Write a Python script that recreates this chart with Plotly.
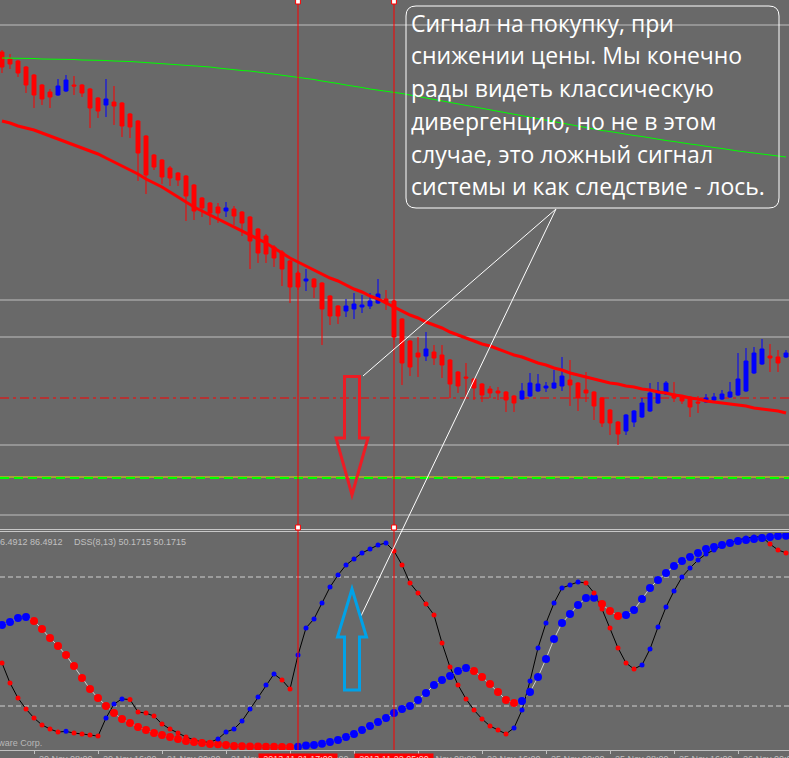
import plotly.graph_objects as go

W, H = 789, 758

# ---------------- data ----------------
OPEN = [94.8, 94.1, 93.9, 93.3, 92.5, 91.5, 90.8, 90.5, 90.9, 91.5,
        91.5, 91.1, 90.2, 89.5, 89.8, 89.7, 88.6, 87.9, 86.4, 84.5,
        84.0, 83.2, 82.7, 82.4, 81.5, 80.2, 79.7, 79.3, 78.9, 79.1,
        78.8, 78.3, 77.1, 76.4, 75.3, 74.8, 73.9, 72.7, 71.9, 72.1,
        71.7, 70.4, 69.4, 68.9, 69.1, 69.3, 69.4, 69.7, 70.1, 69.9,
        68.1, 65.9, 64.7, 64.4, 64.8, 64.5, 64.0, 62.8, 62.3, 62.1,
        61.6, 61.1, 60.9, 60.8, 60.4, 60.1, 60.4, 60.9, 61.2, 61.2,
        61.4, 62.0, 61.7, 61.0, 60.8, 60.2, 59.0, 57.8, 56.9, 57.8,
        58.3, 58.9, 59.7, 60.6, 60.6, 60.4, 60.3, 59.8, 59.8, 60.0,
        60.1, 60.3, 60.5, 60.9, 62.7, 63.6, 64.4, 64.3, 64.3]
HIGH = [95.0, 94.6, 94.0, 93.4, 92.6, 91.6, 91.1, 92.1, 92.5, 92.4,
        91.6, 91.2, 90.3, 92.1, 91.4, 89.8, 88.7, 88.0, 86.5, 84.6,
        84.1, 83.4, 82.8, 82.5, 81.6, 80.3, 79.8, 79.7, 79.8, 79.4,
        78.9, 78.4, 77.2, 76.6, 75.5, 75.0, 74.0, 72.9, 73.1, 72.2,
        71.8, 70.5, 69.5, 70.1, 70.7, 70.5, 70.7, 72.1, 71.0, 70.0,
        68.2, 66.0, 66.3, 66.8, 65.5, 65.5, 64.1, 62.9, 63.7, 62.2,
        61.7, 61.4, 61.3, 60.9, 60.5, 61.7, 62.7, 62.6, 61.8, 63.0,
        64.3, 64.0, 61.8, 62.8, 60.9, 60.3, 59.1, 57.9, 58.6, 59.0,
        60.2, 61.7, 61.8, 61.9, 61.8, 60.5, 60.4, 60.4, 60.6, 60.7,
        61.0, 61.8, 64.7, 65.2, 65.3, 66.1, 65.6, 65.0, 65.0]
LOW = [92.7, 93.1, 92.3, 90.7, 89.2, 89.5, 89.2, 90.4, 90.8, 90.5,
       90.3, 87.2, 88.2, 88.3, 87.5, 86.3, 86.2, 81.9, 80.6, 83.0,
       81.6, 81.4, 81.4, 77.9, 78.0, 78.3, 77.5, 77.7, 78.3, 77.5,
       76.4, 73.1, 73.7, 73.7, 73.3, 71.4, 69.7, 71.0, 70.9, 70.2,
       65.5, 67.5, 67.6, 68.3, 68.1, 68.7, 69.1, 69.6, 69.0, 66.0,
       61.5, 62.4, 62.3, 63.9, 63.5, 62.2, 60.2, 60.7, 60.2, 60.0,
       59.8, 60.2, 60.0, 58.8, 58.8, 60.0, 60.3, 60.8, 60.8, 61.1,
       60.9, 59.4, 58.9, 59.8, 58.0, 57.3, 56.5, 55.5, 56.5, 57.3,
       58.2, 58.8, 59.6, 60.5, 59.8, 59.6, 58.3, 58.7, 59.7, 59.7,
       60.0, 60.2, 60.4, 60.8, 62.6, 63.5, 62.8, 62.8, 64.2]
CLOSE = [93.3, 93.6, 92.7, 91.5, 90.5, 90.1, 90.3, 91.4, 92.0, 91.4,
         90.7, 89.2, 88.9, 90.1, 89.4, 87.4, 87.3, 84.7, 82.5, 83.3,
         82.3, 82.2, 82.0, 80.4, 78.9, 79.2, 78.7, 78.7, 79.2, 78.4,
         77.7, 75.9, 74.7, 74.6, 74.2, 73.1, 71.3, 71.3, 72.1, 71.3,
         69.1, 68.4, 68.4, 69.4, 69.6, 69.5, 69.9, 70.6, 69.7, 66.3,
         63.7, 63.3, 64.3, 65.1, 64.2, 63.5, 61.6, 61.4, 62.2, 61.2,
         60.5, 60.7, 60.7, 60.0, 59.7, 60.9, 61.7, 61.6, 61.4, 61.7,
         62.4, 61.5, 60.2, 60.7, 59.4, 57.7, 57.7, 56.6, 58.5, 58.9,
         59.7, 60.7, 60.9, 61.7, 60.2, 59.9, 59.3, 59.7, 60.2, 60.3,
         60.6, 60.8, 62.1, 63.9, 64.7, 65.1, 64.2, 63.7, 64.7]

MA_FAST = [87.9, 87.7, 87.4, 87.2, 87.0, 86.7, 86.4, 86.1, 85.8, 85.5,
           85.2, 84.9, 84.6, 84.2, 83.8, 83.4, 83.0, 82.6, 82.1, 81.7,
           81.3, 80.8, 80.3, 79.8, 79.3, 78.9, 78.5, 78.1, 77.7, 77.3,
           76.9, 76.5, 76.1, 75.7, 75.2, 74.7, 74.2, 73.8, 73.4, 73.0,
           72.6, 72.2, 71.9, 71.5, 71.1, 70.8, 70.4, 70.1, 69.7, 69.3,
           68.9, 68.5, 68.2, 67.8, 67.5, 67.2, 66.8, 66.5, 66.2, 65.9,
           65.6, 65.4, 65.1, 64.8, 64.5, 64.3, 64.0, 63.7, 63.5, 63.2,
           63.0, 62.7, 62.5, 62.3, 62.1, 61.9, 61.7, 61.6, 61.4, 61.3,
           61.1, 61.0, 60.8, 60.7, 60.5, 60.4, 60.2, 60.1, 59.9, 59.8,
           59.7, 59.6, 59.5, 59.4, 59.2, 59.1, 59.0, 58.9, 58.7]
MA_SLOW = [94.2, 94.2, 94.2, 94.2, 94.15, 94.1, 94.1, 94.1, 94.1, 94.05,
           94.0, 94.0, 94.0, 93.95, 93.9, 93.9, 93.85, 93.8, 93.75, 93.7,
           93.65, 93.6, 93.55, 93.5, 93.4, 93.35, 93.3, 93.2, 93.1, 93.05,
           92.95, 92.9, 92.8, 92.7, 92.6, 92.5, 92.4, 92.3, 92.2, 92.05,
           91.9, 91.8, 91.65, 91.5, 91.4, 91.25, 91.1, 91.0, 90.9, 90.8,
           90.65, 90.5, 90.35, 90.2, 90.05, 89.9, 89.75, 89.6, 89.45, 89.3,
           89.15, 89.0, 88.85, 88.7, 88.55, 88.4, 88.25, 88.1, 87.95, 87.8,
           87.65, 87.5, 87.35, 87.2, 87.1, 86.95, 86.85, 86.7, 86.6, 86.45,
           86.35, 86.2, 86.1, 85.95, 85.85, 85.7, 85.6, 85.5, 85.35, 85.25,
           85.15, 85.0, 84.9, 84.8, 84.7, 84.6, 84.5, 84.4, 84.3]

DSS_MAIN = [40.0, 30.7, 23.7, 18.6, 14.4, 11.2, 9.3, 7.9, 8.2, 7.4,
            7.0, 6.5, 6.0, 14.4, 20.9, 23.3, 23.0, 17.2, 16.7, 15.3,
            11.6, 9.3, 7.4, 5.6, 4.2, 3.3, 3.1, 4.7, 7.9, 9.3,
            13.0, 18.6, 24.2, 29.8, 34.9, 32.1, 27.9, 43.7, 56.3, 60.5,
            67.9, 75.3, 80.9, 85.6, 88.4, 91.2, 93.0, 94.9, 95.8, 92.1,
            85.6, 77.2, 72.6, 67.4, 62.3, 49.3, 38.1, 29.8, 23.3, 18.1,
            14.0, 10.7, 8.8, 7.0, 9.8, 18.1, 31.6, 47.0, 58.6, 67.9,
            74.9, 76.3, 77.7, 77.2, 72.6, 65.1, 56.3, 47.0, 40.0, 37.2,
            39.1, 46.5, 56.7, 66.0, 73.5, 80.0, 84.2, 87.9, 90.7, 92.6,
            94.9, 95.8, 97.2, 98.1, 98.6, 98.7, 95.3, 92.6, 91.2]
DSS_SIGNAL = [57.7, 59.1, 60.9, 61.4, 59.5, 55.8, 51.6, 47.9, 43.7, 38.6,
              33.0, 27.9, 23.7, 20.0, 16.7, 14.0, 12.1, 10.2, 8.8, 7.4,
              6.5, 5.6, 4.7, 3.7, 3.3, 2.8, 2.3, 2.2, 1.9, 1.4,
              1.3, 1.2, 1.15, 1.1, 1.0, 0.95, 0.9, 1.0, 1.6, 1.9,
              2.5, 3.3, 4.2, 5.6, 7.0, 8.8, 10.7, 12.6, 14.4, 16.7,
              18.6, 20.0, 22.8, 26.0, 29.8, 32.1, 34.0, 36.3, 37.7, 36.3,
              33.5, 30.2, 26.5, 22.8, 21.4, 22.3, 26.5, 33.5, 41.9, 51.2,
              58.6, 62.8, 67.0, 70.2, 70.4, 67.4, 64.2, 61.9, 62.3, 64.7,
              69.8, 74.9, 78.6, 81.9, 85.1, 87.4, 89.3, 91.2, 93.0, 94.0,
              94.9, 95.8, 96.7, 97.2, 97.7, 98.1, 98.6, 99.1, 99.2]

LEVELS_SILVER = [97.5, 70.0, 66.3, 55.5, 48.5]
LEVEL_PIVOT = 60.2
LEVEL_SUPPORT = 52.3
DSS_LEVELS = [20, 80]
SIGNAL_BARS = [37, 49]
SIGNAL_TIMES = ["2013.11.21 17:00", "2013.11.22 05:00"]
TICK_BARS = [-4, 4, 12, 20, 28, 36, 44, 52, 60, 68, 76, 84, 92]
TICK_LABELS = ["20 Nov 00:00", "20 Nov 08:00", "20 Nov 16:00", "21 Nov 00:00",
               "21 Nov 08:00", "21 Nov 16:00", "22 Nov 00:00", "22 Nov 08:00",
               "22 Nov 16:00", "25 Nov 00:00", "25 Nov 08:00", "25 Nov 16:00",
               "26 Nov 00:00"]
NOTE_LINES = ["Сигнал на покупку, при",
              "снижении цены. Мы конечно",
              "рады видеть классическую",
              "дивергенцию, но не в этом",
              "случае, это ложный сигнал",
              "системы и как следствие - лось."]
PANEL_LABEL_PREV = "86.4912 86.4912"
PANEL_LABEL = "DSS(8,13) 50.1715 50.1715"
COPYRIGHT = "© 2001-2013 MetaQuotes Software Corp."

# ---------------- styling helpers ----------------
BG = "#696969"
SILVER = "#c0c0c0"
FONT = "Liberation Sans, Arial, sans-serif"
NOTE_SIZE = 23


def PX(x):
    return x / W


def PY(y):
    return 1 - y / H


def pt(x, y):
    return f"{PX(x):.5f},{PY(y):.5f}"


def poly(points):
    return "M " + " L ".join(pt(x, y) for x, y in points) + " Z"


def dir_colors(vals):
    out = []
    for i, v in enumerate(vals):
        d = (vals[1] - vals[0]) if i == 0 else (v - vals[i - 1])
        out.append("#0000ff" if d >= 0 else "#ff0000")
    return out


bars = list(range(len(OPEN)))

fig = go.Figure()

fig.add_trace(go.Candlestick(
    x=bars, open=OPEN, high=HIGH, low=LOW, close=CLOSE,
    increasing=dict(line=dict(color="#0000ff", width=1), fillcolor="#0000ff"),
    decreasing=dict(line=dict(color="#ff0000", width=1), fillcolor="#ff0000"),
    whiskerwidth=0, xaxis="x", yaxis="y", hoverinfo="skip"))
fig.add_trace(go.Scatter(x=list(range(len(MA_SLOW))), y=MA_SLOW, mode="lines",
                         line=dict(color="#00ff00", width=1), yaxis="y", hoverinfo="skip"))
fig.add_trace(go.Scatter(x=list(range(len(MA_FAST))), y=MA_FAST, mode="lines",
                         line=dict(color="#ff0000", width=3), yaxis="y", hoverinfo="skip"))

xs_sig = list(range(len(DSS_SIGNAL)))
xs_main = list(range(len(DSS_MAIN)))
fig.add_trace(go.Scatter(x=xs_sig, y=DSS_SIGNAL, mode="lines",
                         line=dict(color="#d0d0d0", width=1), yaxis="y2", hoverinfo="skip"))
fig.add_trace(go.Scatter(x=xs_main, y=DSS_MAIN, mode="lines",
                         line=dict(color="#000000", width=1), yaxis="y2", hoverinfo="skip"))
fig.add_trace(go.Scatter(x=xs_sig, y=DSS_SIGNAL, mode="markers",
                         marker=dict(color=dir_colors(DSS_SIGNAL), size=8, line=dict(width=0)),
                         yaxis="y2", hoverinfo="skip"))
fig.add_trace(go.Scatter(x=xs_main, y=DSS_MAIN, mode="markers",
                         marker=dict(color=dir_colors(DSS_MAIN), size=5, line=dict(width=0)),
                         yaxis="y2", hoverinfo="skip"))

shapes = []
# price levels
for lv in LEVELS_SILVER:
    shapes.append(dict(type="line", xref="paper", yref="y", x0=0, x1=1, y0=lv, y1=lv,
                       line=dict(color=SILVER, width=1), layer="below"))
shapes.append(dict(type="line", xref="paper", yref="y", x0=0, x1=1, y0=LEVEL_SUPPORT, y1=LEVEL_SUPPORT,
                   line=dict(color="#e0e000", width=1), layer="below"))
shapes.append(dict(type="line", xref="paper", yref="y", x0=0, x1=1, y0=LEVEL_SUPPORT - 0.1,
                   y1=LEVEL_SUPPORT - 0.1, line=dict(color="#00ff00", width=2, dash="9px,5px"),
                   layer="below"))
shapes.append(dict(type="line", xref="paper", yref="y", x0=0, x1=1, y0=LEVEL_PIVOT, y1=LEVEL_PIVOT,
                   line=dict(color="#ff0000", width=1, dash="9px,4px,3px,4px"), layer="below"))
# oscillator levels
for lv in DSS_LEVELS:
    shapes.append(dict(type="line", xref="paper", yref="y2", x0=0, x1=1, y0=lv, y1=lv,
                       line=dict(color="#d0d0d0", width=1, dash="5px,3px"), layer="below"))
# panel separator
for yy in (529.5, 531.5):
    shapes.append(dict(type="line", xref="paper", yref="paper", x0=0, x1=1, y0=PY(yy), y1=PY(yy),
                       line=dict(color="#c8c8c8", width=1)))
# vertical signal lines + selection handles
for b in SIGNAL_BARS:
    shapes.append(dict(type="line", xref="x", yref="paper", x0=b, x1=b, y0=PY(750), y1=1,
                       line=dict(color="#ff0000", width=1)))
    for yy in (1.5, 527.5):
        shapes.append(dict(type="rect", xref="x", yref="paper", x0=b - 0.3, x1=b + 0.3,
                           y0=PY(yy + 2.5), y1=PY(yy - 2.5), fillcolor="#ffffff",
                           line=dict(color="#ff0000", width=1)))

# callout box (rounded)
x0, x1, y0, y1, r = 406, 779, 6, 208, 10
box_path = (f"M {pt(x0 + r, y0)} L {pt(x1 - r, y0)} Q {pt(x1, y0)} {pt(x1, y0 + r)} "
            f"L {pt(x1, y1 - r)} Q {pt(x1, y1)} {pt(x1 - r, y1)} L {pt(x0 + r, y1)} "
            f"Q {pt(x0, y1)} {pt(x0, y1 - r)} L {pt(x0, y0 + r)} Q {pt(x0, y0)} {pt(x0 + r, y0)} Z")
shapes.append(dict(type="path", xref="paper", yref="paper", path=box_path,
                   line=dict(color="#ffffff", width=1)))
# pointer lines
for (ax, ay) in [(363, 376), (361, 616)]:
    shapes.append(dict(type="line", xref="paper", yref="paper", x0=PX(556), y0=PY(209),
                       x1=PX(ax), y1=PY(ay), line=dict(color="#ffffff", width=1)))
# arrows
shapes.append(dict(type="path", xref="paper", yref="paper",
                   path=poly([(344.5, 376.5), (359.5, 376.5), (359.5, 438), (368, 438),
                              (352, 495), (336, 438), (344.5, 438)]),
                   line=dict(color="#ed1c24", width=3)))
shapes.append(dict(type="path", xref="paper", yref="paper",
                   path=poly([(344.5, 690), (344.5, 637), (337.5, 637), (352, 589),
                              (366.5, 637), (359.5, 637), (359.5, 690)]),
                   line=dict(color="#00a2e8", width=3)))

annotations = []
mid_off = (1.069 - 0.293) / 2 * NOTE_SIZE
for i, line in enumerate(NOTE_LINES):
    base = 31.7 + i * 32.7
    annotations.append(dict(text=line, xref="paper", yref="paper", x=PX(409), y=PY(base - mid_off),
                            xanchor="left", yanchor="middle", showarrow=False,
                            font=dict(family="Open Sans", size=NOTE_SIZE, color="#ffffff")))
annotations.append(dict(text=PANEL_LABEL_PREV, xref="paper", yref="paper", x=PX(65), y=PY(541.5),
                        xanchor="right", yanchor="middle", showarrow=False,
                        font=dict(family=FONT, size=9, color=SILVER)))
annotations.append(dict(text=PANEL_LABEL, xref="paper", yref="paper", x=PX(72), y=PY(541.5),
                        xanchor="left", yanchor="middle", showarrow=False,
                        font=dict(family=FONT, size=9, color=SILVER)))
annotations.append(dict(text=COPYRIGHT, xref="paper", yref="paper", x=PX(44), y=PY(743),
                        xanchor="right", yanchor="middle", showarrow=False,
                        font=dict(family=FONT, size=9, color="#b8b8b8")))
for b, lab in zip(TICK_BARS, TICK_LABELS):
    annotations.append(dict(text=lab, xref="x", yref="paper", x=b + 0.35, y=PY(751.5),
                            xanchor="left", yanchor="top", showarrow=False,
                            font=dict(family=FONT, size=9, color=SILVER)))
# time labels of the vertical lines (opaque red boxes drawn over the axis labels)
for b, lab in zip(SIGNAL_BARS, SIGNAL_TIMES):
    annotations.append(dict(text=lab, xref="x", yref="paper", x=b, y=PY(752.5),
                            xanchor="center", yanchor="top", showarrow=False,
                            width=78, height=12, borderpad=0, valign="top", bgcolor="#ff0000",
                            font=dict(family=FONT, size=9, color="#ffc8c8")))

fig.update_layout(
    width=W, height=H, margin=dict(l=0, r=0, t=0, b=0),
    paper_bgcolor=BG, plot_bgcolor=BG, showlegend=False,
    xaxis=dict(range=[-0.25, 98.375], anchor="y2", showgrid=False, zeroline=False,
               showline=True, linecolor=SILVER, linewidth=1, ticks="outside",
               tickvals=TICK_BARS, ticklen=3, tickcolor=SILVER, showticklabels=False,
               rangeslider=dict(visible=False), fixedrange=True),
    yaxis=dict(domain=[1 - 528 / H, 1], range=[47.2, 100], visible=False, fixedrange=True),
    yaxis2=dict(domain=[1 - 750 / H, 1 - 533 / H], range=[-0.465, 100.47], visible=False,
                fixedrange=True),
    shapes=shapes, annotations=annotations,
)

fig.write_html("out.html")
